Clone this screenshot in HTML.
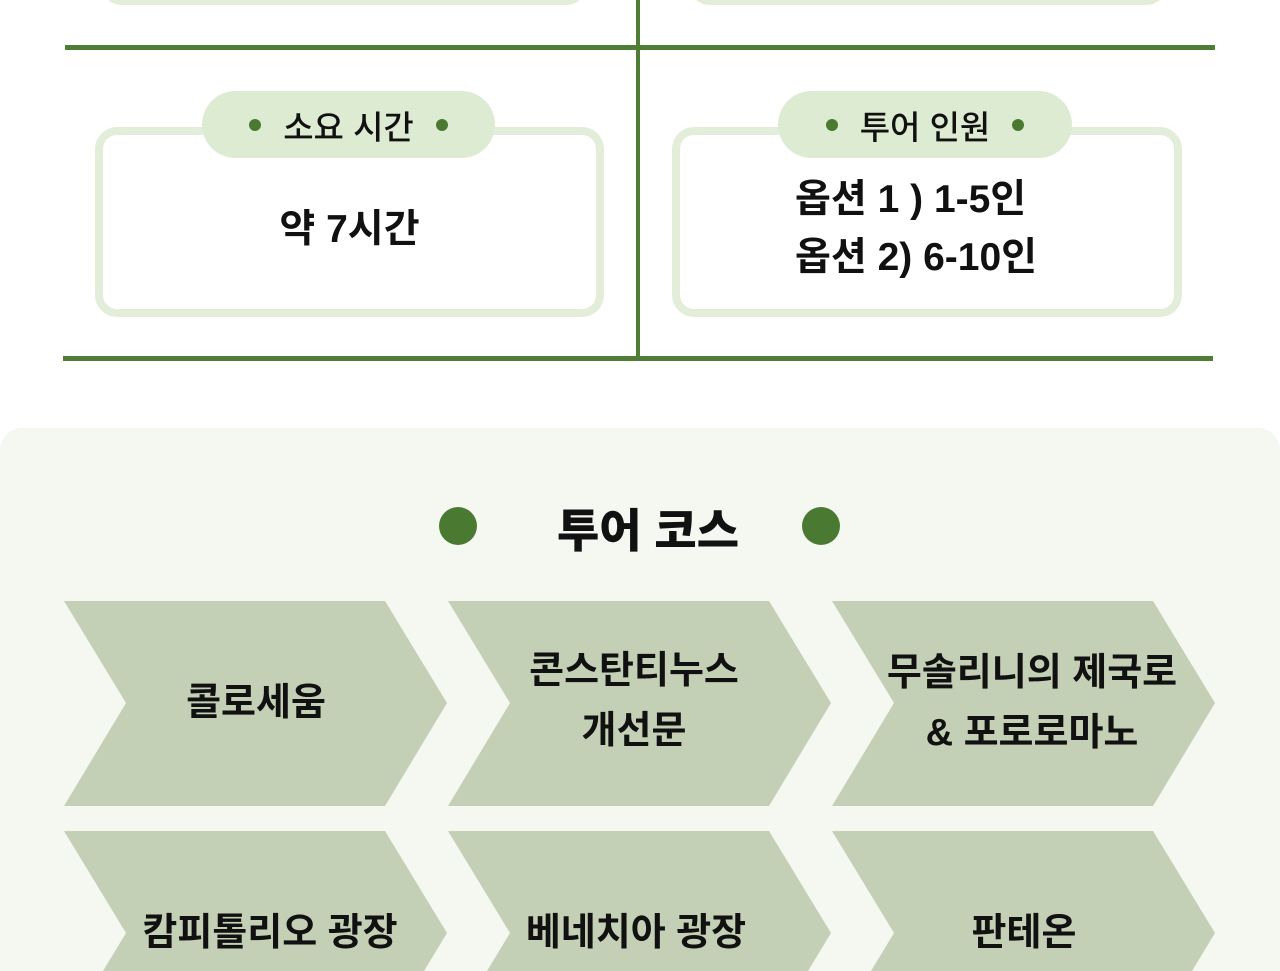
<!DOCTYPE html>
<html style="width:1280px;height:971px;overflow:hidden"><head><meta charset="utf-8"><style>
*{margin:0;padding:0;box-sizing:border-box}
body{width:1280px;height:971px;overflow:hidden;background:#fff;font-family:"Liberation Sans","Noto Sans CJK KR",sans-serif;color:#111}
#w{position:relative;width:1280px;height:971px;overflow:hidden}
.abs{position:absolute}
.box{position:absolute;border:8px solid #e2eed9;border-radius:22px;background:#fff}
.pill{position:absolute;background:#deebd3;border-radius:34px;display:flex;align-items:center;justify-content:center;font-size:33px;font-weight:500;gap:22px}
.pill i{width:12px;height:12px;border-radius:50%;background:#4a7a32;display:block}
.txt{position:absolute;text-align:center;font-size:39px;font-weight:600;line-height:58px}
.ch{position:absolute;width:384px;height:140px;overflow:hidden}
.ch span{position:absolute;left:0;width:384px;text-align:center;font-size:38px;font-weight:700;line-height:60px}
</style></head><body><div id="w">
<div class="box" style="left:100px;top:-60px;width:488px;height:65px"></div>
<div class="box" style="left:688px;top:-60px;width:480px;height:65px"></div>
<div class="abs" style="left:65px;top:45px;width:1150px;height:5px;background:#4f7d35"></div>
<div class="abs" style="left:63px;top:356px;width:1150px;height:5px;background:#4f7d35"></div>
<div class="abs" style="left:636px;top:0;width:4px;height:358px;background:#4f7d35"></div>

<div class="box" style="left:95px;top:127px;width:509px;height:190px"></div>
<div class="pill" style="left:202px;top:91px;width:293px;height:67px"><i></i>소요 시간<i></i></div>
<div class="txt" style="left:95px;top:201px;width:509px">약 7시간</div>

<div class="box" style="left:672px;top:127px;width:510px;height:190px"></div>
<div class="pill" style="left:778px;top:91px;width:294px;height:67px"><i></i>투어 인원<i></i></div>
<div class="txt" style="left:795px;top:171px;text-align:left">옵션 1 ) 1-5인<br>옵션 2) 6-10인</div>

<div class="abs" style="left:0;top:428px;width:1280px;height:543px;background:#f4f8f1;border-radius:22px 22px 0 0"></div>
<div class="abs" style="left:439px;top:507px;width:38px;height:38px;border-radius:50%;background:#4a7a32"></div>
<div class="abs" style="left:802px;top:507px;width:38px;height:38px;border-radius:50%;background:#4a7a32"></div>
<div class="abs" style="left:498px;top:495px;width:300px;text-align:center;font-size:46px;font-weight:800">투어 코스</div>

<svg class="abs" style="left:0;top:0" width="1280" height="971">
<g fill="#c3d0b5">
<polygon points="64,601 385,601 447,703 385,806 64,806 126,703"/>
<polygon points="448,601 769,601 831,703 769,806 448,806 510,703"/>
<polygon points="832,601 1153,601 1215,703 1153,806 832,806 894,703"/>
<polygon points="64,831 385,831 447,933 424,971 103,971 126,933"/>
<polygon points="448,831 769,831 831,933 808,971 487,971 510,933"/>
<polygon points="832,831 1153,831 1215,933 1192,971 871,971 894,933"/>
</g></svg>
<div class="ch" style="left:64px;top:601px;height:206px"><span style="top:72px;left:0px">콜로세움</span></div>
<div class="ch" style="left:448px;top:601px;height:206px"><span style="top:40px;left:-6px">콘스탄티누스<br>개선문</span></div>
<div class="ch" style="left:832px;top:601px;height:206px"><span style="top:42px;left:8px">무솔리니의 제국로<br>&amp; 포로로마노</span></div>
<div class="ch" style="left:64px;top:831px"><span style="top:72px;left:14px">캄피톨리오 광장</span></div>
<div class="ch" style="left:448px;top:831px"><span style="top:72px;left:-4px">베네치아 광장</span></div>
<div class="ch" style="left:832px;top:831px"><span style="top:72px;left:0px">판테온</span></div>
</div></body></html>
